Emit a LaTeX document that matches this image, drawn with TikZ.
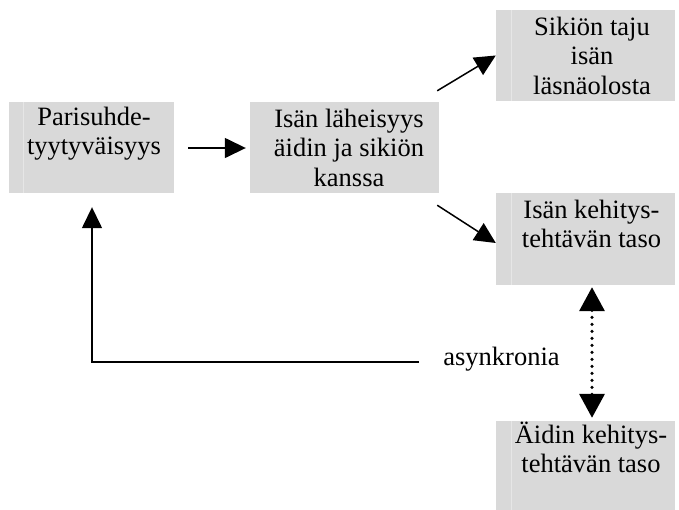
\documentclass[tikz,border=0pt]{standalone}
\usepackage{fontspec}
\setmainfont{Liberation Serif}
\usetikzlibrary{arrows.meta,calc}
\definecolor{boxgray}{HTML}{D9D9D9}
\definecolor{stripgray}{HTML}{E6E6E6}
\begin{document}
\begin{tikzpicture}[x=1pt,y=-1pt,
  box/.style={fill=boxgray, draw=none, inner sep=0pt},
  txt/.style={font=\fontsize{26.5}{29.5}\selectfont, align=center, inner sep=0pt, anchor=base},
  strip/.style={draw=stripgray, line width=0.8pt},
  arr/.style={line width=1.5pt, -{Triangle[length=21pt,width=20pt]}},
  dotarr/.style={line width=3.5pt, line cap=round, dash pattern=on 0pt off 7pt,
     {Triangle[length=24pt,width=25pt,line cap=butt]}-{Triangle[length=24pt,width=25pt,line cap=butt]}}
  ]
\useasboundingbox (0,0) rectangle (679,509);
% boxes
\node[box, minimum width=165pt, minimum height=91pt] (b1) at (91.5,147.5) {};
\node[box, minimum width=189pt, minimum height=91pt] (b2) at (344.5,147.5) {};
\node[box, minimum width=179pt, minimum height=91pt] (b3) at (585.5,55.5) {};
\node[box, minimum width=179pt, minimum height=92pt] (b4) at (585.5,239) {};
\node[box, minimum width=179pt, minimum height=92pt] (b5) at (585.5,467) {};
% faint inner strips
\draw[strip] ($(b1.north west)+(15,0)$) -- ($(b1.south west)+(15,0)$);
\draw[strip] ($(b3.north west)+(16,0)$) -- ($(b3.south west)+(16,0)$);
\draw[strip] ($(b4.north west)+(16,0)$) -- ($(b4.south west)+(16,0)$);
\draw[strip] ($(b5.north west)+(16,0)$) -- ($(b5.south west)+(16,0)$);
% texts (anchor = baseline of last line)
\node[txt] (t1) at (94,154.5) {Parisuhde-\\tyytyväisyys};
\node[txt] (t2) at (349,186) {Isän läheisyys\\äidin ja sikiön\\kanssa};
\node[txt] (t3) at (592,94) {Sikiön taju\\isän\\läsnäolosta};
\node[txt] (t4) at (591.5,247.5) {Isän kehitys-\\tehtävän taso};
\node[txt] (t5) at (591,472.5) {Äidin kehitys-\\tehtävän taso};
\node[txt] (asy) at (501.5,365) {asynkronia};
% connectors
\coordinate (fb) at (419,362);
\draw[arr] ($(b1.east)+(14,0.5)$) -- ($(b2.west)+(-4,0.5)$);
\draw[arr] ($(b2.north east)+(-2,-11)$) -- (b3.west);
\draw[arr] ($(b2.south east)+(-2,12)$) -- ($(b4.west)+(0,4)$);
\draw[arr] (fb) -| ($(b1.south)+(0.5,14)$);
\draw[dotarr] ($(b4.south)+(6.5,2)$) -- ($(b5.north)+(6.5,-3)$);
\end{tikzpicture}
\end{document}
